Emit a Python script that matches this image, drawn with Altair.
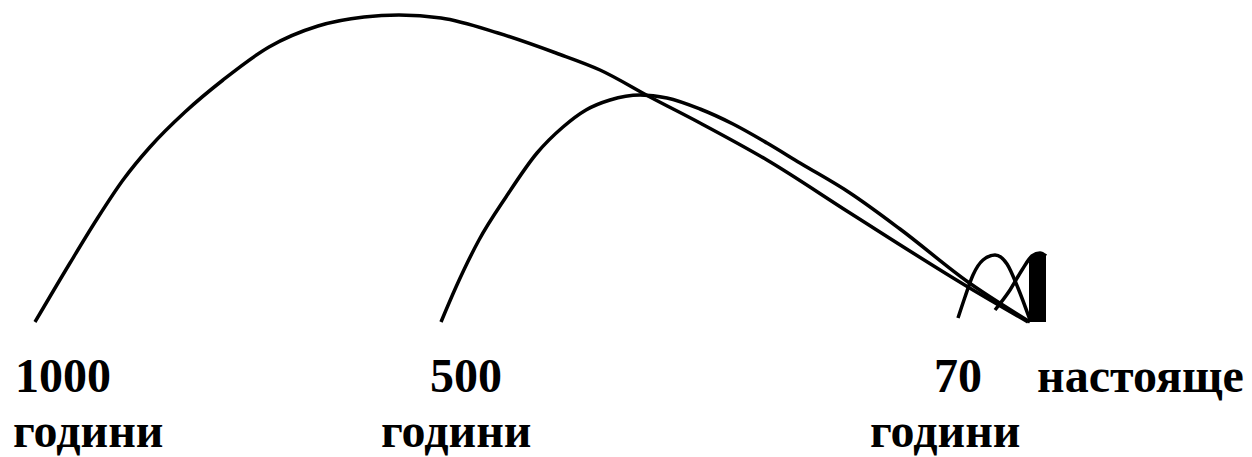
import altair as alt
import pandas as pd

# Arc for "1000 години" (page-pixel coordinates)
arc1000_x = [35, 70, 97, 123, 150, 185, 223, 269, 318, 364, 399, 441, 498, 556, 600, 650, 700, 767, 850, 968, 1028]
arc1000_y = [322, 263, 219, 180, 147, 112, 80, 47, 26, 17, 15, 18, 33, 53, 70, 97, 123, 160, 213, 287, 322]

# Arc for "500 години"
arc500_x = [441, 456, 479, 506, 537, 563, 586, 610, 640, 667, 700, 733, 767, 800, 850, 900, 968, 1030]
arc500_y = [322, 287, 240, 197, 153, 127, 110, 100, 95, 98, 109, 124, 143, 163, 193, 229, 282, 322]

# Arc for "70 години"
arc70_x = [958, 965, 973, 983, 995, 1007, 1018, 1030]
arc70_y = [318, 297, 275, 260, 255, 264, 288, 320]

# "настояще" (present) – a very narrow, filled arc
now_x = [995, 1010, 1022, 1032, 1040, 1046]
now_y = [310, 290, 270, 256, 253, 256]
nowfill_x = [1029, 1034, 1040, 1046]
nowfill_y = [262, 254, 253, 256]
nowfill_base = [322, 322, 322, 322]

# Labels
labels = ["1000", "години", "500", "години", "70", "настояще", "години"]
label_x = [15, 13, 430, 381, 934, 1037, 870]
label_y = [392, 447, 392, 447, 392, 392, 447]

frames = []
for name, xs, ys in [("1000", arc1000_x, arc1000_y), ("500", arc500_x, arc500_y),
                     ("70", arc70_x, arc70_y), ("now", now_x, now_y)]:
    frames.append(pd.DataFrame({"series": name, "x": xs, "y": ys, "order": range(len(xs))}))
lines_df = pd.concat(frames, ignore_index=True)

fill_df = pd.DataFrame({"x": nowfill_x, "y": nowfill_y, "y2": nowfill_base})
text_df = pd.DataFrame({"label": labels, "x": label_x, "y": label_y})

xscale = alt.Scale(domain=[8, 1244], nice=False, zero=False)
yscale = alt.Scale(domain=[8, 457], nice=False, zero=False, reverse=True)

lines = alt.Chart(lines_df).mark_line(
    color="black", strokeWidth=3.5, interpolate="monotone"
).encode(
    x=alt.X("x:Q", scale=xscale, axis=None),
    y=alt.Y("y:Q", scale=yscale, axis=None),
    detail="series:N",
    order="order:Q",
)

fill = alt.Chart(fill_df).mark_area(color="black", interpolate="monotone").encode(
    x=alt.X("x:Q", scale=xscale, axis=None),
    y=alt.Y("y:Q", scale=yscale, axis=None),
    y2="y2:Q",
)

text = alt.Chart(text_df).mark_text(
    font="Liberation Serif", fontWeight="bold", fontSize=48,
    align="left", baseline="alphabetic", color="black"
).encode(
    x=alt.X("x:Q", scale=xscale, axis=None),
    y=alt.Y("y:Q", scale=yscale, axis=None),
    text="label:N",
)

chart = alt.layer(lines, fill, text).properties(
    width=1236, height=449, autosize="none", padding=0, background="white"
).configure_view(stroke=None)

chart.save("out.html", embed_options={"renderer": "svg", "actions": False})
